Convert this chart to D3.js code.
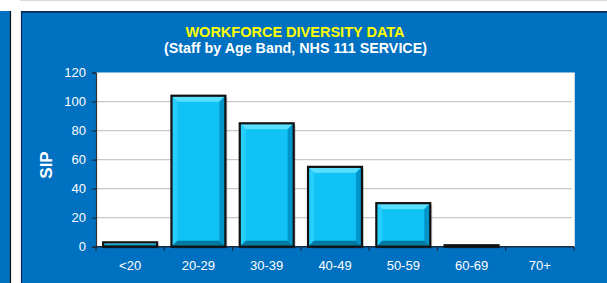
<!DOCTYPE html>
<html><head><meta charset="utf-8">
<script src="https://cdn.jsdelivr.net/npm/d3@7"></script>
<style>html,body{margin:0;padding:0;background:#fff;}svg{display:block;}</style>
</head><body>
<script>
const categories = ["<20","20-29","30-39","40-49","50-59","60-69","70+"];
const values = [3,104,85,55,30,1,0];
const yTicks = [0,20,40,60,80,100,120];
const title = "WORKFORCE DIVERSITY DATA";
const subtitle = "(Staff by Age Band, NHS 111 SERVICE)";
const yTitle = "SIP";

const W=607,H=283;
const svg=d3.select("body").append("svg").attr("width",W).attr("height",H);
const font="Arial, 'Liberation Sans', sans-serif";

// background panels
svg.append("line").attr("x1",20).attr("x2",W).attr("y1",0.5).attr("y2",0.5).attr("stroke","#d8d8d8");
svg.append("rect").attr("x",0).attr("y",11).attr("width",10.5).attr("height",H).attr("fill","#0070c0");
svg.append("line").attr("x1",10.5).attr("x2",10.5).attr("y1",11).attr("y2",H).attr("stroke","#111").attr("stroke-width",1.2);
svg.append("rect").attr("x",21).attr("y",11).attr("width",W-21).attr("height",H).attr("fill","#0070c0");
svg.append("line").attr("x1",21).attr("x2",W).attr("y1",11.8).attr("y2",11.8).attr("stroke","#0a2a55").attr("stroke-width",1.8);
svg.append("line").attr("x1",21.5).attr("x2",21.5).attr("y1",11).attr("y2",H).attr("stroke","#0a2a55").attr("stroke-width",1.2);

const m={l:96,r:574,t:72.5,b:246.7};
const x=d3.scaleBand().domain(categories).range([m.l,m.r]).paddingInner(0.21).paddingOuter(0.105);
const xb=d3.scaleBand().domain(categories).range([m.l,m.r]);
const y=d3.scaleLinear().domain([0,120]).range([m.b,m.t]);

// plot area
svg.append("rect").attr("x",m.l).attr("y",m.t).attr("width",m.r-m.l).attr("height",m.b-m.t).attr("fill","#fff");
svg.append("line").attr("x1",m.r+0.5).attr("x2",m.r+0.5).attr("y1",m.t).attr("y2",m.b).attr("stroke","#cfd8e0");

// gridlines
svg.append("g").selectAll("line").data(yTicks.filter(d=>d>0&&d<120)).join("line")
  .attr("x1",m.l).attr("x2",m.r-2).attr("y1",d=>y(d)).attr("y2",d=>y(d))
  .attr("stroke","#c8c8c8").attr("stroke-width",1.2);

// axes
const yAxis=svg.append("g").attr("transform",`translate(${m.l},0)`)
  .call(d3.axisLeft(y).tickValues(yTicks).tickSize(4).tickPadding(6));
yAxis.select(".domain").attr("stroke","#333").attr("stroke-width",1.2);
yAxis.selectAll(".tick line").attr("stroke","#1a2a40").attr("stroke-width",1.2);
yAxis.selectAll("text").attr("fill","#fff").attr("font-family",font).attr("font-size",13);

const xAxis=svg.append("g").attr("transform",`translate(0,${m.b})`);
xAxis.append("line").attr("x1",m.l).attr("x2",m.r).attr("y1",0).attr("y2",0).attr("stroke","#1a2a40").attr("stroke-width",1.5);
const bounds=categories.map(c=>xb(c)).concat([m.r]);
xAxis.selectAll(".tk").data(bounds).join("line").attr("class","tk")
  .attr("x1",d=>d).attr("x2",d=>d).attr("y1",0).attr("y2",4).attr("stroke","#1a2a40").attr("stroke-width",1.2);
xAxis.selectAll(".lb").data(categories).join("text").attr("class","lb")
  .attr("x",d=>xb(d)+xb.bandwidth()/2).attr("y",23).attr("text-anchor","middle")
  .attr("fill","#fff").attr("font-family",font).attr("font-size",13).text(d=>d);

// bars with bevel
const g=svg.append("g");
const bars=g.selectAll("g.bar").data(categories.map((c,i)=>({c,v:values[i]})).filter(d=>d.v>0)).join("g").attr("class","bar");
bars.each(function(d){
  const s=d3.select(this);
  const x0=x(d.c), x1=x0+x.bandwidth(), y0=y(d.v), y1=y(0);
  const h=y1-y0;
  const b=Math.min(6,h/2,x.bandwidth()/2);
  s.append("rect").attr("x",x0+2).attr("y",y0+2).attr("width",x1-x0).attr("height",h).attr("fill","rgba(0,0,0,0.18)");
  s.append("rect").attr("x",x0).attr("y",y0).attr("width",x1-x0).attr("height",h).attr("fill","#10c2f5");
  if(h>4){
    s.append("path").attr("d",`M${x0},${y0}L${x1},${y0}L${x1-b},${y0+b}L${x0+b},${y0+b}Z`).attr("fill","#5ae0ff");
    s.append("path").attr("d",`M${x0},${y0}L${x0+b},${y0+b}L${x0+b},${y1-b}L${x0},${y1}Z`).attr("fill","#26cffb");
    s.append("path").attr("d",`M${x1},${y0}L${x1},${y1}L${x1-b},${y1-b}L${x1-b},${y0+b}Z`).attr("fill","#0096ca");
    s.append("path").attr("d",`M${x0},${y1}L${x1},${y1}L${x1-b},${y1-b}L${x0+b},${y1-b}Z`).attr("fill","#007aa2");
  }
  s.append("rect").attr("x",x0).attr("y",y0).attr("width",x1-x0).attr("height",h)
    .attr("fill","none").attr("stroke","#111").attr("stroke-width",2.2);
});

// titles
svg.append("text").attr("x",295).attr("y",37).attr("text-anchor","middle")
  .attr("fill","#ffff00").attr("font-family",font).attr("font-weight","bold").attr("font-size",14.5).text(title);
svg.append("text").attr("x",295.5).attr("y",53).attr("text-anchor","middle")
  .attr("fill","#fff").attr("font-family",font).attr("font-weight","bold").attr("font-size",14.3).text(subtitle);
svg.append("text").attr("transform",`translate(52,165) rotate(-90)`).attr("text-anchor","middle")
  .attr("fill","#fff").attr("font-family",font).attr("font-weight","bold").attr("font-size",17).text(yTitle);
</script>
</body></html>
